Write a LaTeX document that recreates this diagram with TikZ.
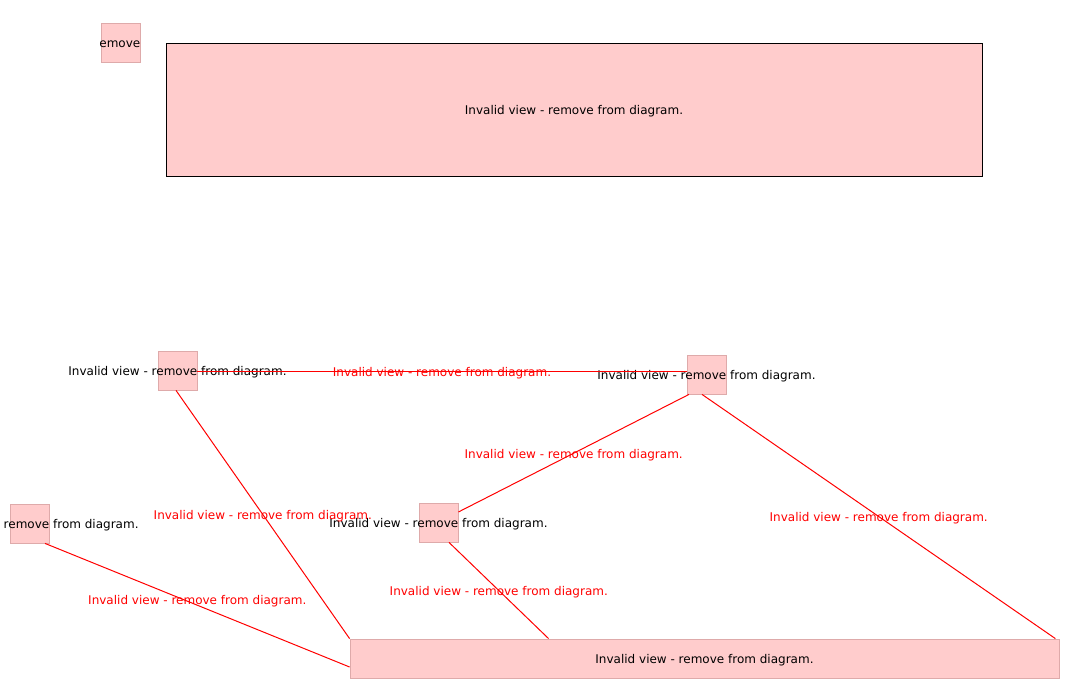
\documentclass[tikz,border=0pt]{standalone}
\usepackage{fontspec}
\setmainfont{DejaVu Sans}
\definecolor{pfill}{RGB}{255,204,204}
\definecolor{pline}{RGB}{222,170,170}
\definecolor{ered}{RGB}{255,0,0}
\begin{document}
\begin{tikzpicture}[x=1pt,y=-1pt,
  pbox/.style={draw=pline,fill=pfill,line width=0.8pt,inner sep=0pt,minimum width=39pt,minimum height=39pt},
  txt/.style={inner sep=0pt,yshift=-2pt,font=\fontsize{12}{14}\selectfont,text=black},
  elbl/.style={inner sep=0pt,yshift=-2pt,font=\fontsize{12}{14}\selectfont,text=ered},
  edge/.style={draw=ered,line width=1pt}]
\useasboundingbox (0,0) rectangle (1077,689);
% nodes
\node[pbox] (A) at (120.5,42.5) {};
\begin{scope}
  \clip (A.south west) rectangle (A.north east);
  \node[txt] (At) at (A) {Invalid view - remove from diagram.};
\end{scope}
\node[draw=black,fill=pfill,line width=1pt,inner sep=0pt,minimum width=816pt,minimum height=133pt] (B) at (574,109.5) {};
\node[txt] (Bt) at (B) {Invalid view - remove from diagram.};
\node[pbox] (C) at (177.5,370.5) {};
\node[txt] (Ct) at (C) {Invalid view - remove from diagram.};
\node[pbox] (D) at (706.5,374.5) {};
\node[txt] (Dt) at (D) {Invalid view - remove from diagram.};
\node[pbox] (E) at (29.5,523.5) {};
\node[txt] (Et) at (E) {Invalid view - remove from diagram.};
\node[pbox] (F) at (438.5,522.5) {};
\node[txt] (Ft) at (F) {Invalid view - remove from diagram.};
\node[pbox,minimum width=709pt] (G) at (704.5,658.5) {};
\node[txt] (Gt) at (G) {Invalid view - remove from diagram.};
% edges
\draw[edge] ([yshift=-0.5pt]C.east) -- ([yshift=-0.5pt]C.east -| D.west) node[elbl,midway] {Invalid view - remove from diagram.};
\draw[edge] ([xshift=-1.5pt]C.south) -- (G.north west) node[elbl,midway] {Invalid view - remove from diagram.};
\draw[edge] ([xshift=15.5pt]E.south) -- ([yshift=-8.5pt]G.west) node[elbl,midway,yshift=6pt] {Invalid view - remove from diagram.};
\draw[edge] ([yshift=10.5pt]F.east) -- ([xshift=-17.5pt]D.south) node[elbl,midway] {Invalid view - remove from diagram.};
\draw[edge] ([xshift=10.5pt]F.south) -- ([xshift=199pt]G.north west) node[elbl,midway] {Invalid view - remove from diagram.};
\draw[edge] ([xshift=-4.5pt]D.south) -- ([xshift=-4pt]G.north east) node[elbl,midway] {Invalid view - remove from diagram.};
\end{tikzpicture}
\end{document}
